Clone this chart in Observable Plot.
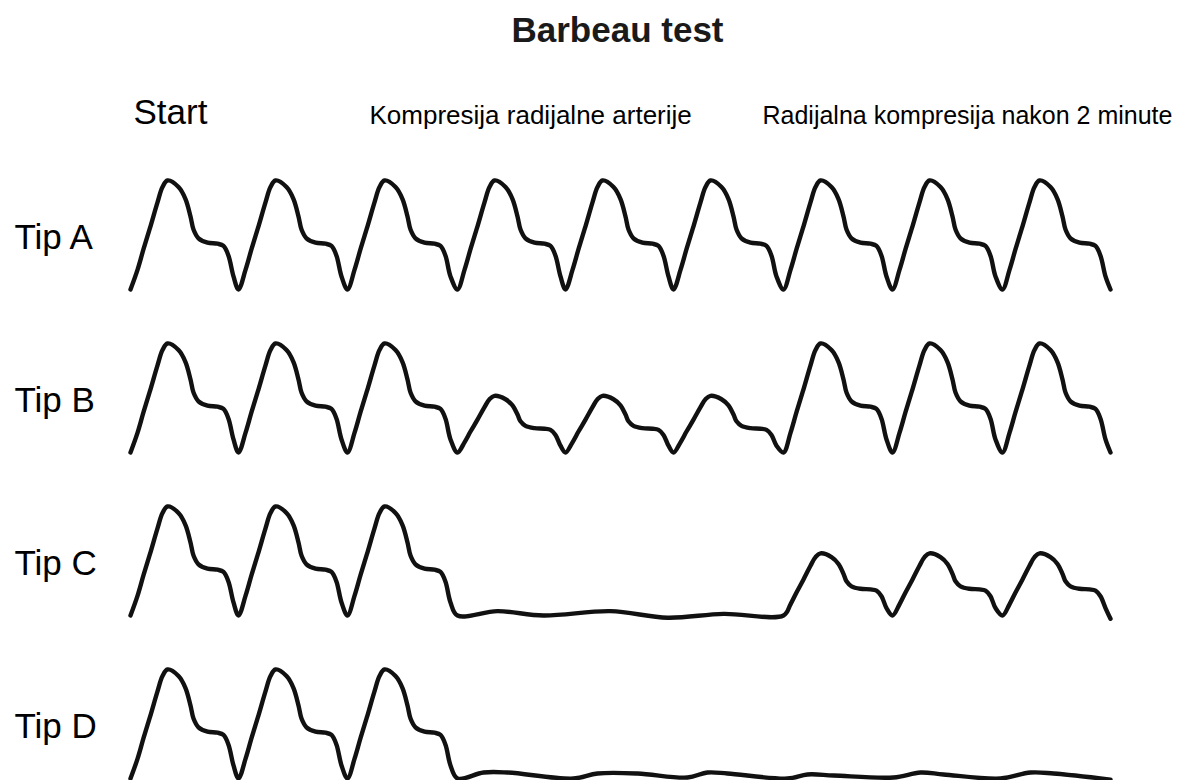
<!DOCTYPE html>
<html>
<head>
<meta charset="utf-8">
<script src="https://cdn.jsdelivr.net/npm/d3@7"></script>
<script src="https://cdn.jsdelivr.net/npm/@observablehq/plot@0.6"></script>
<style>
  html, body { margin: 0; padding: 0; background: #fff; }
  body { width: 1177px; height: 780px; overflow: hidden; font-family: "Liberation Sans", Arial, Helvetica, sans-serif; }
  #title { height: 60px; line-height: 60px; text-align: center; font-size: 35px; font-weight: bold; color: #1a1a1a; padding-left: 58px; box-sizing: border-box; }
</style>
</head>
<body>
<div id="title">Barbeau test</div>
<div id="chart"></div>
<script>
// ---- data ----
const rows = ["Tip A", "Tip B", "Tip C", "Tip D"];
const phaseLabels = ["Start", "Kompresija radijalne arterije", "Radijalna kompresija nakon 2 minute"];
const phaseLabelT = [3, 239, 632];           // time where each phase label starts
const phaseLabelSize = [35, 26, 25];

// start time of each pulse (trough), and end of the trace
const beatStarts = [0, 108, 217, 327, 435, 543, 653, 762, 872];
const traceEnd = 980;

// pulse amplitude of each beat, per row (0 = no pulse)
const ampA = [100, 100, 100, 100, 100, 100, 100, 100, 100];
const ampB = [100, 100, 100, 52, 52, 52, 100, 100, 100];
const ampC = [100, 100, 100, 0, 0, 0, 57, 57, 57];
const ampD = [100, 100, 100, 0, 0, 0, 0, 0, 0];
const traceEndValue = [0, 0, -3, -1];

// shape of one pulse: time offset and fraction of the peak
const beatShapeT = [0, 7, 13, 20, 27, 32, 37, 48, 55, 60, 63, 68, 77, 87, 93, 98, 103];
const beatShapeV = [0, 0.18, 0.37, 0.58, 0.80, 0.94, 1, 0.94, 0.83, 0.67, 0.55, 0.47, 0.43, 0.42, 0.40, 0.31, 0.12];

// nearly flat trace while the artery is compressed
const flatCT = [327, 367, 413, 480, 537, 593];
const flatCV = [0, 4, 0, 4, -2, 1.5];
const flatDT = [327, 353, 377, 443, 467, 507, 557, 577, 597, 657, 677, 703, 763, 790, 813, 870, 900, 923];
const flatDV = [0, 5.5, 5.5, 0, 4.6, 4.6, 0.9, 5.5, 4.6, 0, 3.7, 2.8, 0.9, 5.5, 3.7, 0, 5.5, 4.6];

// ---- build the table ----
const amps = [ampA, ampB, ampC, ampD];
const flats = [null, null, {t: flatCT, v: flatCV}, {t: flatDT, v: flatDV}];
const points = [];
rows.forEach((row, k) => {
  const pts = [];
  amps[k].forEach((a, i) => {
    if (a > 0) beatShapeT.forEach((dt, j) => pts.push({row, t: beatStarts[i] + dt, v: a * beatShapeV[j]}));
  });
  if (flats[k]) flats[k].t.forEach((t, j) => pts.push({row, t, v: flats[k].v[j]}));
  pts.push({row, t: traceEnd, v: traceEndValue[k]});
  pts.sort((a, b) => a.t - b.t);
  points.push(...pts);
});
const phases = phaseLabels.map((label, i) => ({label, t: phaseLabelT[i], size: phaseLabelSize[i], row: rows[0]}));

const font = "'Liberation Sans', Arial, Helvetica, sans-serif";
const chart = Plot.plot({
  width: 1177,
  height: 720,
  marginTop: 67.5,
  marginBottom: 0.5,
  marginLeft: 130,
  marginRight: 67,
  facet: {marginTop: 67.5, marginBottom: 0.5, marginLeft: 130, marginRight: 67},
  style: {fontFamily: font, background: "#fff", color: "#000", overflow: "visible"},
  x: {domain: [0, traceEnd], axis: null},
  y: {domain: [0, 100], axis: null, insetTop: 52, insetBottom: 2},
  fy: {domain: rows, axis: null, padding: 0},
  marks: [
    Plot.line(points, {
      x: "t", y: "v", fy: "row",
      curve: "catmull-rom",
      stroke: "#111", strokeWidth: 4.4,
      strokeLinejoin: "round", strokeLinecap: "round"
    }),
    Plot.text(rows, {
      fy: d => d, text: d => d, y: () => 47,
      frameAnchor: "left", dx: -116, textAnchor: "start",
      fontSize: 35, fill: "#000"
    }),
    ...phases.map(p => Plot.text([p], {
      fy: "row", x: "t", text: "label",
      frameAnchor: "top", dy: -5, lineAnchor: "bottom",
      textAnchor: "start", fontSize: p.size, fill: "#000"
    }))
  ]
});
document.getElementById("chart").appendChild(chart);
</script>
</body>
</html>
